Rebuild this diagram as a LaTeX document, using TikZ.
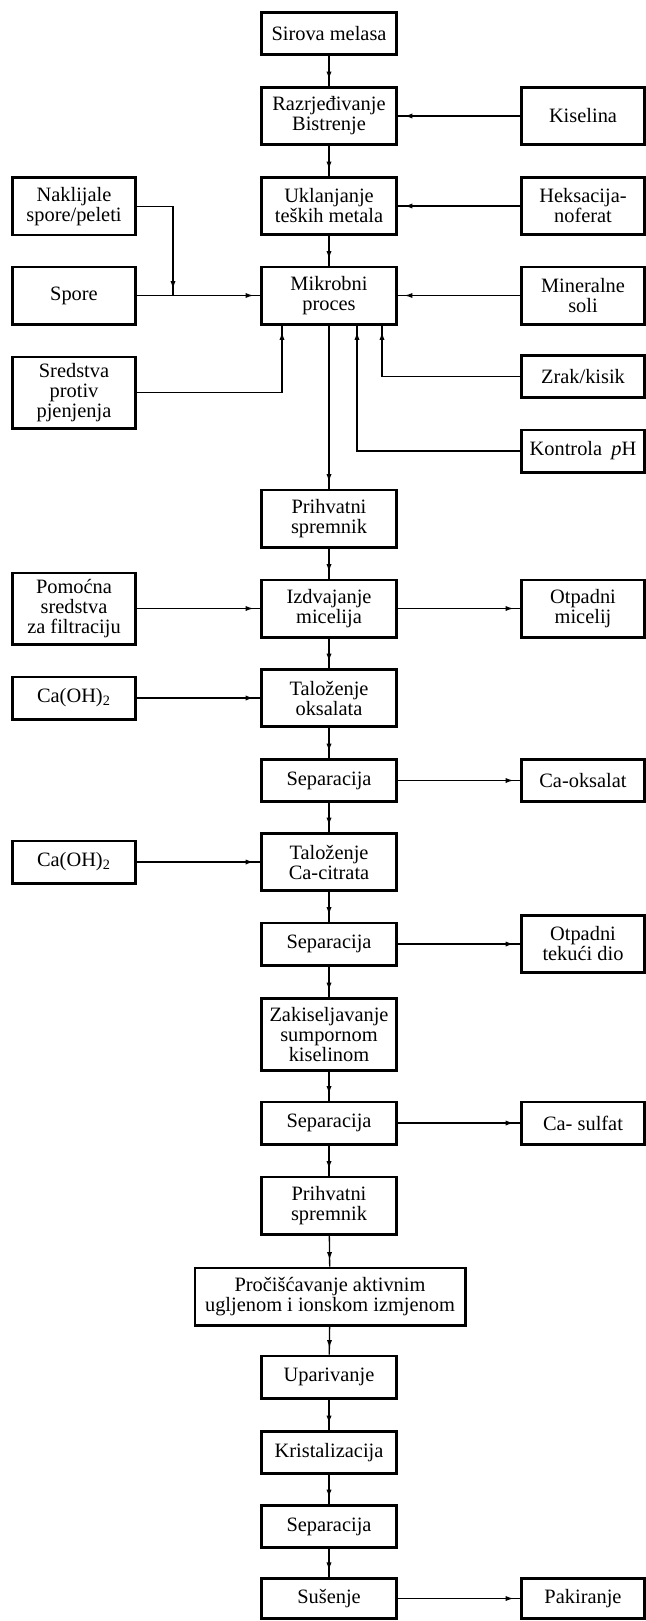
\documentclass[tikz,border=0pt]{standalone}
\usepackage{fontspec}
\setmainfont{Liberation Serif}
\usetikzlibrary{arrows.meta,decorations.markings}
\tikzset{
	box/.style={draw, line width=1.4pt, align=center, inner sep=1pt, font=\fontsize{10.2}{10}\selectfont},
	midbox/.style={box, minimum width=67.6pt},
	sidebox/.style={box, minimum width=61.6pt},
	oneline/.style={minimum height=21.1pt},
	twoline/.style={minimum height=28.6pt},
	threeline/.style={minimum height=35.6pt},
	flow/.style={line width=0.65pt, postaction={decorate},
		decoration={markings, mark=at position -3.2pt with {\arrow{Latex[length=4pt,width=2.6pt]}}}},
}
\begin{document}
\begin{tikzpicture}[x=0.5pt,y=-0.5pt]
				\useasboundingbox (0,0) rectangle (646,1621);
				\node[midbox, oneline] (sirova) at (329,33.5) {Sirova melasa};
				\node[midbox, twoline] (razr) at (329,116) {Razrjeđivanje\\Bistrenje};
				\node[midbox, twoline] (uklan) at (329,206) {Uklanjanje\\teških metala};
				\node[midbox, twoline] (mikro) at (329,295.5) {Mikrobni\\proces};
				\node[midbox, twoline] (prihv1) at (329,518.5) {Prihvatni\\spremnik};
				\node[midbox, twoline] (izdv) at (329,608.5) {Izdvajanje\\micelija};
				\node[midbox, twoline] (taloks) at (329,698) {Taloženje\\oksalata};
				\node[midbox, oneline] (sep1) at (329,780.5) {Separacija};
				\node[midbox, twoline] (talcit) at (329,862) {Taloženje\\Ca-citrata};
				\node[midbox, oneline] (sep2) at (329,944) {Separacija};
				\node[midbox, minimum height=36.1pt] (zakis) at (329,1034.5) {Zakiseljavanje\\sumpornom\\kiselinom};
				\node[midbox, oneline] (sep3) at (329,1123) {Separacija};
				\node[midbox, twoline] (prihv2) at (329,1205.5) {Prihvatni\\spremnik};
				\node[box, twoline, minimum width=135.1pt] (procis) at (330,1296.5) {Pročišćavanje aktivnim\\ugljenom i ionskom izmjenom};
				\node[midbox, oneline] (upar) at (329,1377) {Uparivanje};
				\node[midbox, oneline] (krist) at (329,1452.5) {Kristalizacija};
				\node[midbox, oneline] (sep4) at (329,1526.5) {Separacija};
				\node[midbox, minimum height=20.3pt] (susenje) at (329,1598.5) {Sušenje};
				\node[sidebox, twoline] (kiselina) at (583,116) {Kiselina};
				\node[sidebox, twoline] (heksa) at (583,206) {Heksacija-\\noferat};
				\node[sidebox, twoline] (mineral) at (583,295.5) {Mineralne\\soli};
				\node[sidebox, oneline] (zrak) at (583,376.5) {Zrak/kisik};
				\node[sidebox, oneline] (kontrola) at (583,451) {Kontrola\hspace{0.45em}\textit{p}H};
				\node[sidebox, twoline] (otpmic) at (583,608.5) {Otpadni\\micelij};
				\node[sidebox, oneline] (caoks) at (583,780.5) {Ca-oksalat};
				\node[sidebox, twoline] (otptek) at (583,944) {Otpadni\\tekući dio};
				\node[sidebox, oneline] (casulf) at (583,1123) {Ca- sulfat};
				\node[sidebox, minimum height=20.3pt] (pakir) at (583,1598.5) {Pakiranje};
				\node[sidebox, twoline] (naklij) at (74,206.5) {Naklijale\\spore/peleti};
				\node[sidebox, twoline] (spore) at (74,295.5) {Spore};
				\node[sidebox, threeline] (sredstva) at (74,392.5) {Sredstva\\protiv\\pjenjenja};
				\node[sidebox, threeline] (pomocna) at (74,608.5) {Pomoćna\\sredstva\\za filtraciju};
				\node[sidebox, oneline] (caoh1) at (74,698) {Ca(OH)\textsubscript{2}};
				\node[sidebox, oneline] (caoh2) at (74,862) {Ca(OH)\textsubscript{2}};
				\path (spore.east) ++(36,0) coordinate (sporej);
				\draw[flow] (sirova) -- (razr);
				\draw[flow] (razr) -- (uklan);
				\draw[flow] (uklan) -- (mikro);
				\draw[flow] (kiselina) -- (razr);
				\draw[flow] (heksa) -- (uklan);
				\draw[flow] (mineral) -- (mikro);
				\draw[flow] (naklij.east) -| (sporej);
				\draw[flow] (spore) -- (mikro);
				\draw[flow] (sredstva.east) -| ([xshift=-23.5pt]mikro.south);
				\draw[flow] (zrak.west) -| ([xshift=26.5pt]mikro.south);
				\draw[flow] (kontrola.west) -| ([xshift=14pt]mikro.south);
				\draw[flow] (mikro) -- (prihv1);
				\draw[flow] (prihv1) -- (izdv);
				\draw[flow] (pomocna) -- (izdv);
				\draw[flow] (izdv) -- (otpmic);
				\draw[flow] (izdv) -- (taloks);
				\draw[flow] (caoh1) -- (taloks);
				\draw[flow] (taloks) -- (sep1);
				\draw[flow] (sep1) -- (caoks);
				\draw[flow] (sep1) -- (talcit);
				\draw[flow] (caoh2) -- (talcit);
				\draw[flow] (talcit) -- (sep2);
				\draw[flow] (sep2) -- (otptek);
				\draw[flow] (sep2) -- (zakis);
				\draw[flow] (zakis) -- (sep3);
				\draw[flow] (sep3) -- (casulf);
				\draw[flow] (sep3) -- (prihv2);
				\draw[flow] (prihv2) -- (procis);
				\draw[flow] (procis) -- (upar);
				\draw[flow] (upar) -- (krist);
				\draw[flow] (krist) -- (sep4);
				\draw[flow] (sep4) -- (susenje);
				\draw[flow] (susenje) -- (pakir);
			\end{tikzpicture}
\end{document}
